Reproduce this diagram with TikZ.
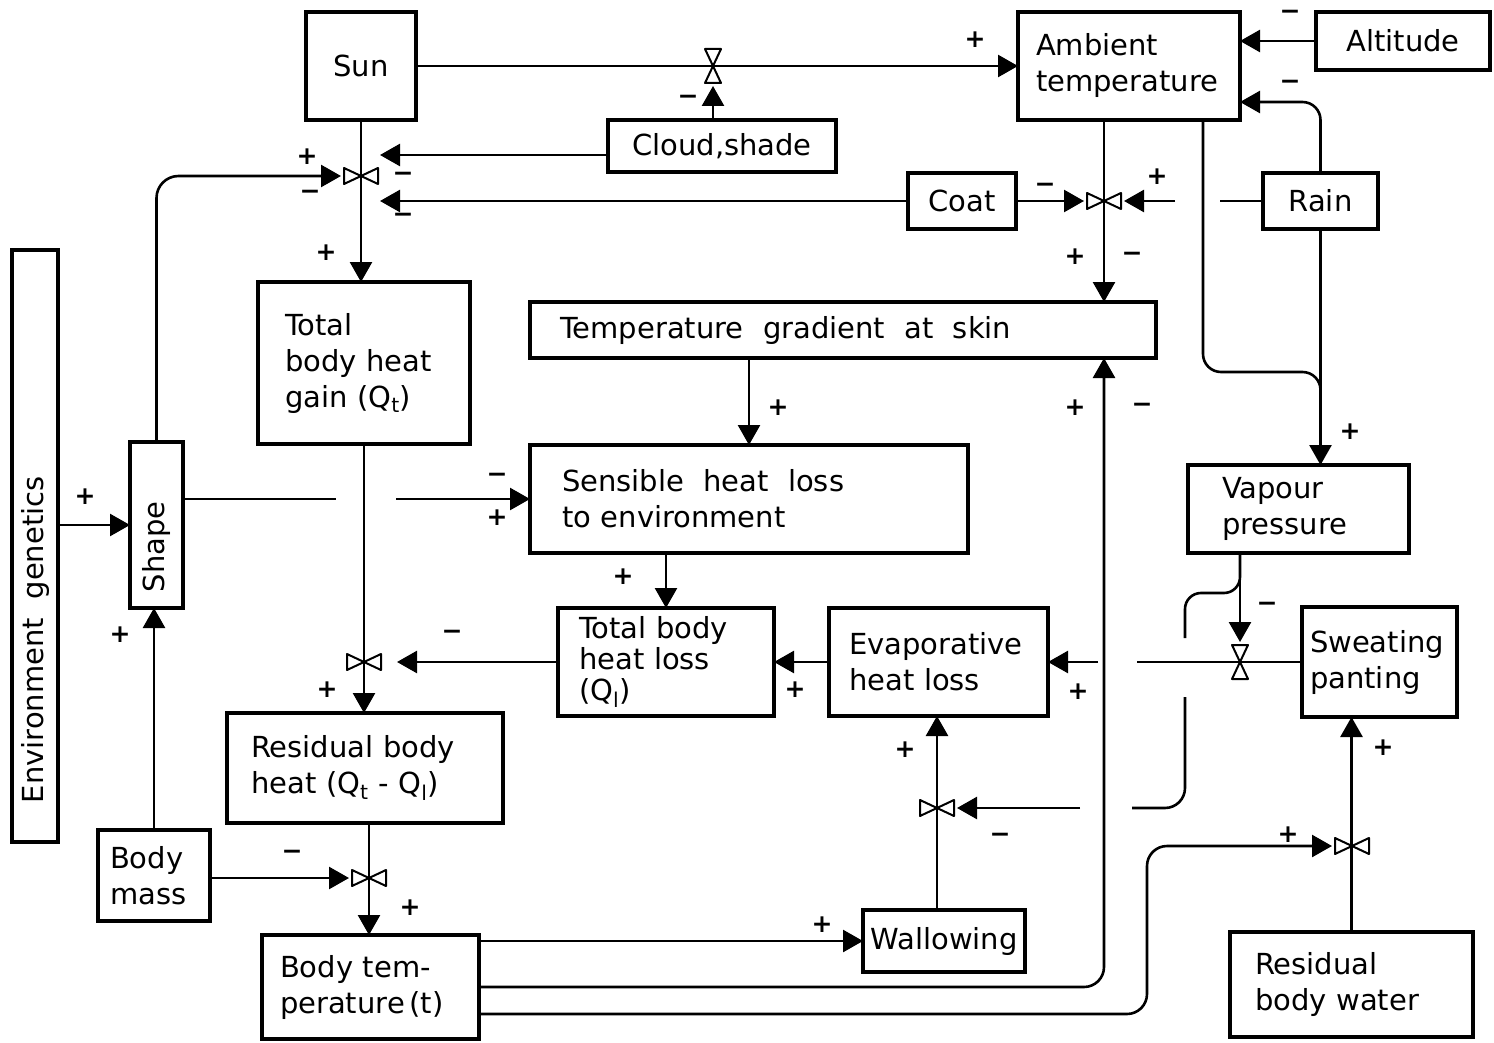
\documentclass[tikz,border=0pt]{standalone}
\usepackage{fontspec}
\setmainfont{DejaVu Sans}
\usetikzlibrary{arrows.meta,calc}

\begin{document}
\begin{tikzpicture}[
  x=1pt,y=-1pt,
  every node/.style={font=\fontsize{29}{36}\selectfont},
  box/.style={draw,line width=4pt,anchor=north west,inner sep=0pt,outer sep=0pt,align=center},
  lbox/.style={box,align=left},
  valve/.style={inner sep=0pt,outer sep=0pt,minimum width=34pt,minimum height=16pt},
  vvalve/.style={inner sep=0pt,outer sep=0pt,minimum width=16pt,minimum height=34pt},
  vlv/.style={line width=2pt,line join=round},
  sgn/.style={inner sep=0pt,font=\fontsize{25}{25}\selectfont\bfseries},
  ln/.style={line width=2.6pt},
  arr/.style={ln,-{Triangle[length=20pt,width=22pt]}},
  ctl/.style={arr,shorten >=3pt}
]
\useasboundingbox (0,0) rectangle (1494,1043);

\node[box,minimum width=110pt,minimum height=108pt] (sun) at (306,12) {Sun};
\node[box,minimum width=228pt,minimum height=52pt] (cloud) at (608,120) {Cloud,shade};
\node[lbox,minimum height=108pt,text width=186pt,inner xsep=18pt] (amb) at (1018,12) {Ambient\\temperature};
\node[box,minimum width=174pt,minimum height=58pt] (alt) at (1316,12) {Altitude};
\node[box,minimum width=108pt,minimum height=56pt] (coat) at (908,173) {Coat};
\node[box,minimum width=115pt,minimum height=56pt] (rain) at (1263,173) {Rain};
\node[box,minimum width=46pt,minimum height=592pt] (env) at (12,250) {\rotatebox{90}{\makebox[514pt][l]{Environment\ \ genetics}}};
\node[box,minimum width=53pt,minimum height=166pt] (shape) at (130,442) {\rotatebox{90}{\makebox[134pt][l]{Shape}}};
\node[lbox,minimum height=162pt,text width=158pt,inner xsep=27pt] (gain) at (258,282) {Total\\body heat\\gain (Q\textsubscript{t})};
\node[lbox,minimum height=56pt,text width=566pt,inner xsep=30pt] (tgs) at (530,302) {Temperature\ \ gradient\ \ at\ \ skin};
\node[lbox,minimum height=108pt,text width=374pt,inner xsep=32pt] (sens) at (530,445) {Sensible\ \ heat\ \ loss\\to environment};
\node[lbox,minimum height=108pt,text width=174pt,inner xsep=21pt,font=\fontsize{29}{31}\selectfont] (tbhl) at (558,608) {Total body\\heat loss\\(Q\textsubscript{l})};
\node[lbox,minimum height=108pt,text width=179pt,inner xsep=20pt] (evap) at (829,608) {Evaporative\\heat loss};
\node[lbox,minimum height=88pt,text width=153pt,inner xsep=34pt] (vp) at (1188,465) {Vapour\\pressure};
\node[lbox,minimum height=110pt,text width=139pt,inner xsep=8pt] (sweat) at (1302,607) {Sweating\\panting};
\node[lbox,minimum height=110pt,text width=228pt,inner xsep=24pt] (rbh) at (227,713) {Residual body\\heat (Q\textsubscript{t} - Q\textsubscript{l})};
\node[lbox,minimum height=91pt,text width=88pt,inner xsep=12pt] (mass) at (98,830) {Body\\mass};
\node[lbox,minimum height=104pt,text width=181pt,inner xsep=18pt] (btemp) at (262,935) {Body tem-\\perature\,(t)};
\node[box,minimum width=162pt,minimum height=62pt] (wall) at (863,910) {Wallowing};
\node[lbox,minimum height=105pt,text width=193pt,inner xsep=25pt] (rbw) at (1230,932) {Residual\\body water};

\node[vvalve] (vcloud) at (713,66) {};
\node[valve] (vsun) at (361,176) {};
\node[valve] (vcoat) at (1104,201) {};
\node[valve] (vgain) at (364,662) {};
\node[valve] (vmass) at (369,878) {};
\node[valve] (vwall) at (937,808) {};
\node[vvalve] (vsweat) at (1240,662) {};
\node[valve] (vwater) at (1352,846) {};
\foreach \v in {vsun,vcoat,vgain,vmass,vwall,vwater}
  \draw[vlv] (\v.north west) -- (\v.south west) -- (\v.center) -- cycle
             (\v.north east) -- (\v.south east) -- (\v.center) -- cycle;
\foreach \v in {vcloud,vsweat}
  \draw[vlv] (\v.north west) -- (\v.north east) -- (\v.center) -- cycle
             (\v.south west) -- (\v.south east) -- (\v.center) -- cycle;

\coordinate (sunin1) at (380,155);
\coordinate (sunin2) at (380,201);
\coordinate (rainl) at (1220,201);
\coordinate (rainr) at (1175,201);
\coordinate (gapl) at (336,499);
\coordinate (gapr) at (396,499);
\coordinate (evgap1) at (1137,662);
\coordinate (evgap2) at (1098,662);
\coordinate (vpg1) at (1185,638);
\coordinate (vpg2) at (1185,697);
\coordinate (vpg3) at (1132,808);
\coordinate (vpg4) at (1080,808);

\draw[arr] (sun.east) -- (amb.west);
\draw[ctl] (vcloud |- cloud.north) -- (vcloud.south);
\draw[arr] (sun.south) -- (sun.south |- gain.north);
\draw[ctl,rounded corners=22pt] (shape.north) |- (vsun.west);
\draw[arr] (cloud.west |- sunin1) -- (sunin1);
\draw[arr] (coat.west) -- (sunin2);
\draw[ctl] (coat.east) -- (vcoat.west);
\draw[ln] (rain.west) -- (rainl);
\draw[ctl] (rainr) -- (vcoat.east);
\draw[arr] (vcoat |- amb.south) -- (vcoat |- tgs.north);
\draw[arr] (alt.west) -- (alt.west -| amb.east);
\draw[arr,rounded corners=18pt] (rain.north) |- ([yshift=-36pt]amb.east);
\draw[arr] (rain.south) -- (rain.south |- vp.north);
\draw[ln,rounded corners=18pt] ([xshift=-37pt]amb.south east) |- ($(rain.south)+(0,143)$) -- ($(rain.south)+(0,175)$);
\draw[arr] (sens.north |- tgs.south) -- (sens.north);
\draw[ln] (shape.east |- gapl) -- (gapl);
\draw[arr] (gapr) -- (sens.west);
\draw[arr] (env.east |- shape.west) -- (shape.west);
\draw[arr] (mass.north) -- (mass.north |- shape.south);
\draw[arr] (gain.south) -- (gain.south |- rbh.north);
\draw[ctl,shorten >=16pt] (tbhl.west) -- (vgain.east);
\draw[arr] (tbhl.north |- sens.south) -- (tbhl.north);
\draw[arr] (evap.west) -- (tbhl.east);
\draw[ln] (sweat.west) -- (evgap1);
\draw[arr] (evgap2) -- (evap.east);
\draw[ctl] (vsweat |- vp.south) -- (vsweat.north);
\draw[ln,rounded corners=16pt] (vsweat |- vp.south) -- (1240,593) -- (1185,593) -- (vpg1);
\draw[ln,rounded corners=20pt] (vpg2) -- (1185,808) -- (vpg3);
\draw[ctl] (vpg4) -- (vwall.east);
\draw[arr] (vwall |- wall.north) -- (vwall |- evap.south);
\draw[arr] (btemp.east |- wall.west) -- (wall.west);
\draw[arr,rounded corners=20pt] (btemp.east) -| (vcoat |- tgs.south);
\draw[ctl,rounded corners=20pt] ([yshift=-27pt]btemp.east) -| (1147,846) -- (vwater.west);
\draw[arr] (rbw.north) -- (rbw.north |- sweat.south);
\draw[ctl] (mass.east |- vmass) -- (vmass.west);
\draw[arr] (vmass |- rbh.south) -- (vmass |- btemp.north);

\foreach \x/\y [count=\i] in {975/40,307/157,326/253,1157/177,1075/257,778/408,1075/408,1350/432,85/497,497/518,623/577,120/635,327/690,795/690,1078/692,905/750,1383/748,1288/835,410/908,822/925}
  \node[sgn] (p\i) at (\x,\y) {+};
\foreach \x/\y [count=\i] in {688/100,1290/15,1290/85,403/177,310/195,403/218,1045/188,1132/257,1142/408,497/478,452/635,1267/607,1000/838,292/855}
  \node[sgn] (m\i) at (\x,\y) {−};
\end{tikzpicture}
\end{document}
